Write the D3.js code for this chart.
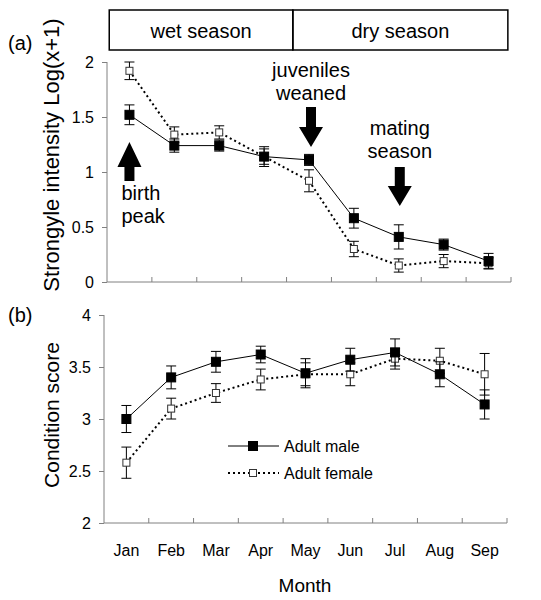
<!DOCTYPE html>
<html><head><meta charset="utf-8">
<script src="https://cdn.jsdelivr.net/npm/d3@7"></script>
<style>body{margin:0;background:#fff}svg{display:block;font-family:"Liberation Sans",Arial,sans-serif}</style>
</head><body>
<svg id="c" width="541" height="600"></svg>
<script>
const months = ["Jan","Feb","Mar","Apr","May","Jun","Jul","Aug","Sep"];
// Panel (a): Strongyle intensity Log(x+1)
const maleStrongyle    = [1.52, 1.24, 1.24, 1.14, 1.11, 0.58, 0.41, 0.34, 0.19];
const maleStrongyleErr = [0.09, 0.06, 0.05, 0.07, 0.05, 0.09, 0.11, 0.05, 0.07];
const femStrongyle     = [1.92, 1.34, 1.36, 1.14, 0.92, 0.30, 0.15, 0.19, 0.17];
const femStrongyleErr  = [0.08, 0.07, 0.06, 0.09, 0.10, 0.07, 0.06, 0.06, 0.05];
const yTicksA = [0, 0.5, 1, 1.5, 2];
// Panel (b): Condition score
const maleCondition    = [3.00, 3.40, 3.55, 3.62, 3.44, 3.57, 3.64, 3.43, 3.14];
const maleConditionErr = [0.13, 0.11, 0.10, 0.08, 0.14, 0.11, 0.13, 0.12, 0.14];
const femCondition     = [2.58, 3.10, 3.25, 3.38, 3.43, 3.43, 3.58, 3.56, 3.43];
const femConditionErr  = [0.15, 0.10, 0.09, 0.10, 0.11, 0.11, 0.10, 0.12, 0.20];
const yTicksB = [2, 2.5, 3, 3.5, 4];
const seasons = [{label:"wet season", from:0.05, to:4.14},{label:"dry season", from:4.14, to:8.93}];
const events = [
  {lines:["birth","peak"], month:"Jan", dir:"up"},
  {lines:["juveniles","weaned"], month:"May", dir:"down"},
  {lines:["mating","season"], month:"Jul", dir:"down"}
];
const legendItems = [{label:"Adult male", filled:true},{label:"Adult female", filled:false}];

const svg = d3.select("#c");
const AXC = "#808080";

function panel(opts){
  const g = svg.append("g");
  const x = d3.scaleBand().domain(months).range([opts.x0, opts.x1]).paddingInner(0).paddingOuter(0);
  const y = d3.scaleLinear().domain(opts.domain).range([opts.yb, opts.yt]);
  const ya = g.append("g").attr("transform",`translate(${opts.x0},0)`)
    .call(d3.axisLeft(y).tickValues(opts.ticks).tickSize(5).tickPadding(8).tickFormat(d3.format("")));
  ya.select(".domain").attr("stroke",AXC).attr("d",`M-0,${opts.yt}V${opts.yb}`);
  ya.selectAll(".tick line").attr("stroke",AXC);
  ya.selectAll("text").attr("font-size",16).attr("fill","#000");
  const xa = g.append("g").attr("transform",`translate(0,${opts.yb})`);
  xa.append("line").attr("x1",opts.x0).attr("x2",opts.x1).attr("stroke",AXC);
  const bounds = months.map(m => x(m) + x.bandwidth());
  xa.selectAll("line.t").data(bounds).join("line").attr("class","t")
    .attr("x1",d=>d).attr("x2",d=>d).attr("y1",0).attr("y2",-5).attr("stroke",AXC);
  return {g,x,y};
}

function series(p, vals, errs, filled){
  const {g,x,y} = p;
  const cx = i => x(months[i]) + x.bandwidth()/2;
  const line = d3.line().x((d,i)=>cx(i)).y(d=>y(d));
  g.append("path").datum(vals).attr("d",line).attr("fill","none").attr("stroke","#000")
    .attr("stroke-width", filled?1:2).attr("stroke-dasharray", filled?null:"2,3");
  vals.forEach((v,i)=>{
    const e = errs[i], X = cx(i);
    g.append("line").attr("x1",X).attr("x2",X).attr("y1",y(v+e)).attr("y2",y(v-e)).attr("stroke","#000");
    [v+e, v-e].forEach(t=> g.append("line").attr("x1",X-5).attr("x2",X+5).attr("y1",y(t)).attr("y2",y(t)).attr("stroke","#000"));
  });
  vals.forEach((v,i)=>{
    const s = filled?9:7;
    g.append("rect").attr("x",cx(i)-s/2).attr("y",y(v)-s/2).attr("width",s).attr("height",s)
      .attr("fill",filled?"#000":"#fff").attr("stroke",filled?"#000":"#333").attr("stroke-width",1);
  });
}

// Panel (a)
const A = panel({x0:107, x1:511, yb:282, yt:62, domain:[0,2], ticks:yTicksA});
series(A, femStrongyle, femStrongyleErr, false);
series(A, maleStrongyle, maleStrongyleErr, true);

// season box
const sx = d3.scaleLinear().domain([0,9]).range([107,511]);
seasons.forEach(s=>{
  svg.append("rect").attr("x",sx(s.from)).attr("y",10).attr("width",sx(s.to)-sx(s.from)).attr("height",40)
    .attr("fill","none").attr("stroke","#000").attr("stroke-width",1.5);
  svg.append("text").attr("x",(sx(s.from)+sx(s.to))/2).attr("y",38).attr("text-anchor","middle")
    .attr("font-size",20).text(s.label);
});

// event annotations
events.forEach(ev=>{
  const X = A.x(ev.month) + A.x.bandwidth()/2 + (ev.month==="Jul"?1:(ev.month==="May"?2:0));
  let tip, base, tail;
  if(ev.dir==="up"){ tip=142; base=167; tail=181; }
  else if(ev.month==="May"){ tail=107; base=127; tip=147; }
  else { tail=167; base=186; tip=206; }
  const hw=12, sw=5;
  const pts = [[X,tip],[X+hw,base],[X+sw,base],[X+sw,tail],[X-sw,tail],[X-sw,base],[X-hw,base]];
  svg.append("path").attr("d","M"+pts.map(p=>p.join(",")).join("L")+"Z").attr("fill","#000");
  const t = svg.append("text").attr("font-size",20);
  if(ev.dir==="up"){
    t.attr("text-anchor","start");
    ev.lines.forEach((l,i)=>t.append("tspan").attr("x",X-8).attr("y",200+i*23).text(l));
  } else {
    const y0 = ev.month==="May"?77:135;
    t.attr("text-anchor","middle");
    ev.lines.forEach((l,i)=>t.append("tspan").attr("x",X).attr("y",y0+i*23).text(l));
  }
});

// Panel (b)
const B = panel({x0:104, x1:507, yb:523, yt:315, domain:[2,4], ticks:yTicksB});
series(B, femCondition, femConditionErr, false);
series(B, maleCondition, maleConditionErr, true);
B.g.selectAll(null).data(months).join("text").attr("x",d=>B.x(d)+B.x.bandwidth()/2).attr("y",556)
  .attr("text-anchor","middle").attr("font-size",16).text(d=>d);

// legend
legendItems.forEach((it,i)=>{
  const ly = 446 + i*27;
  svg.append("line").attr("x1",228).attr("x2",279).attr("y1",ly).attr("y2",ly).attr("stroke","#000")
    .attr("stroke-width", it.filled?1:2).attr("stroke-dasharray", it.filled?null:"2,3");
  const s = it.filled?9:7;
  svg.append("rect").attr("x",253-s/2).attr("y",ly-s/2).attr("width",s).attr("height",s)
    .attr("fill",it.filled?"#000":"#fff").attr("stroke",it.filled?"#000":"#333");
  svg.append("text").attr("x",284).attr("y",ly+6).attr("font-size",16).text(it.label);
});

// labels
svg.append("text").attr("x",8).attr("y",50).attr("font-size",20).text("(a)");
svg.append("text").attr("x",8).attr("y",322).attr("font-size",20).text("(b)");
svg.append("text").attr("transform","translate(59,155) rotate(-90)").attr("text-anchor","middle")
  .attr("font-size",22).text("Strongyle intensity Log(x+1)");
svg.append("text").attr("transform","translate(59,415) rotate(-90)").attr("text-anchor","middle")
  .attr("font-size",21).text("Condition score");
svg.append("text").attr("x",305).attr("y",592).attr("text-anchor","middle").attr("font-size",19).text("Month");
</script>
</body></html>
